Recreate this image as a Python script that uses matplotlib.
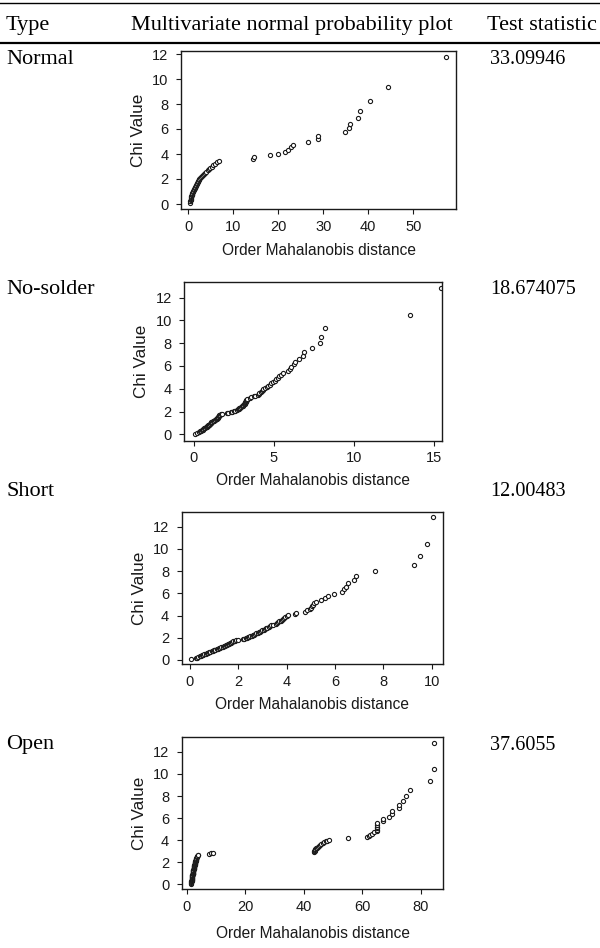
import matplotlib
matplotlib.use("Agg")
import matplotlib.pyplot as plt
from matplotlib.lines import Line2D

W, H = 600, 948

# Chi-square (3 df) plotting positions for n = 60 and n = 100
chi_60 = [0.10, 0.22, 0.31, 0.39, 0.47, 0.55, 0.62, 0.69, 0.76, 0.83,
          0.90, 0.97, 1.04, 1.11, 1.18, 1.25, 1.32, 1.39, 1.46, 1.53,
          1.61, 1.68, 1.76, 1.84, 1.91, 1.99, 2.07, 2.16, 2.24, 2.32,
          2.41, 2.50, 2.60, 2.70, 2.80, 2.90, 3.00, 3.12, 3.24, 3.35,
          3.47, 3.60, 3.75, 3.89, 4.03, 4.19, 4.36, 4.55, 4.74, 4.95,
          5.19, 5.45, 5.73, 6.07, 6.44, 6.92, 7.46, 8.22, 9.35, 11.76]

chi_100 = [0.07, 0.15, 0.22, 0.27, 0.33, 0.38, 0.42, 0.47, 0.52, 0.56,
           0.61, 0.65, 0.69, 0.73, 0.78, 0.82, 0.86, 0.90, 0.94, 0.98,
           1.03, 1.07, 1.11, 1.15, 1.19, 1.23, 1.28, 1.32, 1.36, 1.40,
           1.45, 1.49, 1.53, 1.58, 1.62, 1.67, 1.72, 1.76, 1.81, 1.85,
           1.90, 1.94, 1.99, 2.04, 2.09, 2.14, 2.19, 2.24, 2.29, 2.34,
           2.39, 2.45, 2.50, 2.56, 2.62, 2.68, 2.74, 2.80, 2.86, 2.92,
           2.98, 3.05, 3.12, 3.19, 3.26, 3.33, 3.40, 3.47, 3.55, 3.63,
           3.72, 3.80, 3.89, 3.97, 4.06, 4.16, 4.26, 4.36, 4.47, 4.58,
           4.70, 4.82, 4.95, 5.09, 5.24, 5.39, 5.56, 5.73, 5.93, 6.14,
           6.37, 6.61, 6.90, 7.22, 7.59, 8.05, 8.55, 9.35, 10.48, 12.84]

# Ordered Mahalanobis distances per defect type
md_normal = [0.45, 0.50, 0.55, 0.60, 0.62, 0.65, 0.70, 0.75, 0.80, 0.85,
             0.90, 1.00, 1.10, 1.20, 1.30, 1.40, 1.50, 1.60, 1.70, 1.80,
             1.90, 2.00, 2.10, 2.20, 2.30, 2.50, 2.70, 2.90, 3.10, 3.30,
             3.50, 3.70, 4.00, 4.30, 4.60, 4.90, 5.20, 5.50, 5.90, 6.40,
             6.80, 14.3, 14.7, 18.1, 20.0, 21.6, 22.1, 22.9, 23.2, 26.7,
             28.8, 28.9, 34.9, 35.7, 36.0, 37.7, 38.1, 40.5, 44.4, 57.2]

md_nosolder = [0.05, 0.20, 0.30, 0.38, 0.45, 0.50, 0.55, 0.60, 0.65, 0.70,
               0.75, 0.80, 0.85, 0.88, 0.90, 0.93, 0.96, 1.00, 1.02, 1.05,
               1.08, 1.10, 1.15, 1.20, 1.25, 1.30, 1.35, 1.40, 1.42, 1.45,
               1.48, 1.50, 1.52, 1.55, 1.58, 1.60, 1.65, 1.70, 1.75, 2.10,
               2.15, 2.30, 2.40, 2.50, 2.60, 2.70, 2.75, 2.80, 2.85, 2.90,
               2.95, 3.00, 3.05, 3.10, 3.15, 3.18, 3.20, 3.22, 3.25, 3.25,
               3.28, 3.30, 3.35, 3.50, 3.60, 3.75, 3.85, 4.00, 4.05, 4.10,
               4.20, 4.25, 4.30, 4.35, 4.45, 4.55, 4.65, 4.75, 4.85, 4.95,
               5.05, 5.15, 5.25, 5.35, 5.45, 5.60, 5.90, 6.00, 6.10, 6.25,
               6.30, 6.60, 6.85, 6.90, 7.40, 7.90, 7.95, 8.20, 13.5, 15.46]

md_short = [0.05, 0.25, 0.30, 0.35, 0.40, 0.45, 0.50, 0.55, 0.60, 0.65,
            0.70, 0.75, 0.80, 0.85, 0.90, 0.95, 0.98, 1.00, 1.05, 1.10,
            1.15, 1.20, 1.25, 1.30, 1.35, 1.40, 1.45, 1.50, 1.53, 1.57,
            1.60, 1.65, 1.68, 1.72, 1.75, 1.80, 1.85, 1.90, 2.00, 2.20,
            2.25, 2.30, 2.35, 2.40, 2.45, 2.50, 2.55, 2.60, 2.65, 2.70,
            2.75, 2.80, 2.85, 2.90, 2.95, 3.00, 3.05, 3.10, 3.15, 3.20,
            3.25, 3.30, 3.35, 3.45, 3.55, 3.60, 3.65, 3.70, 3.75, 3.80,
            3.85, 3.90, 3.95, 4.00, 4.05, 4.35, 4.40, 4.75, 4.85, 4.95,
            5.00, 5.05, 5.10, 5.15, 5.20, 5.40, 5.60, 5.70, 5.95, 6.30,
            6.35, 6.45, 6.55, 6.80, 6.85, 7.65, 9.25, 9.50, 9.80, 10.05]

md_open = [1.50, 1.55, 1.60, 1.62, 1.65, 1.68, 1.70, 1.72, 1.75, 1.78,
           1.80, 1.83, 1.85, 1.88, 1.90, 1.93, 1.96, 2.00, 2.03, 2.06,
           2.10, 2.13, 2.16, 2.20, 2.23, 2.26, 2.30, 2.33, 2.36, 2.40,
           2.43, 2.46, 2.50, 2.53, 2.56, 2.60, 2.64, 2.68, 2.72, 2.76,
           2.80, 2.85, 2.90, 2.95, 3.00, 3.05, 3.10, 3.15, 3.20, 3.25,
           3.30, 3.40, 3.50, 3.60, 3.70, 3.80, 7.80, 8.30, 9.00, 43.5,
           43.6, 43.7, 43.8, 44.0, 44.2, 44.5, 44.8, 45.1, 45.5, 46.0,
           46.5, 47.0, 47.5, 48.0, 48.5, 55.0, 61.5, 62.3, 62.8, 63.3,
           64.0, 65.0, 65.0, 65.1, 65.1, 65.2, 65.2, 67.0, 67.0, 69.0,
           70.0, 70.2, 72.5, 72.5, 73.8, 75.0, 76.3, 83.0, 84.6, 84.6]

row_labels = ["Normal", "No-solder", "Short", "Open"]
test_stats = ["33.09946", "18.674075", "12.00483", "37.6055"]
headers = ["Type", "Multivariate normal probability plot", "Test statistic"]

panels = [
    (md_normal, chi_60, [0, 10, 20, 30, 40, 50]),
    (md_nosolder, chi_100, [0, 5, 10, 15]),
    (md_short, chi_100, [0, 2, 4, 6, 8, 10]),
    (md_open, chi_100, [0, 20, 40, 60, 80]),
]

# axes boxes in pixels: left, top, right, bottom
boxes = [(181, 51, 456, 209), (184.3, 282.3, 442.3, 440.7),
         (181.7, 511.7, 442.7, 664.3), (181.7, 736.7, 443.3, 889.3)]
xlims = [(-1.6, 59.5), (-0.6, 15.55), (-0.34, 10.45), (-1.7, 87.7)]
ylims = [(-0.4, 12.24), (-0.56, 13.35), (-0.39, 13.35), (-0.45, 13.38)]
xlabelpads = [7.0, 5.5, 6.0, 8.5]
label_y = [59, 289, 492, 745]

sans = "Liberation Sans"
serif = "Liberation Serif"
ink = "#1a1a1a"

fig = plt.figure(figsize=(W / 100, H / 100), dpi=100)


def fx(px):
    return px / W


def fy(py):
    return 1 - py / H


for (xs, ys, xt), (l, t, r, b), xl, yl, lp in zip(panels, boxes, xlims, ylims, xlabelpads):
    ax = fig.add_axes([fx(l), fy(b), (r - l) / W, (b - t) / H])
    ax.plot(xs, ys, linestyle="none", marker="o", markersize=3.0,
            markerfacecolor="white", markeredgecolor=ink, markeredgewidth=0.8)
    ax.set_xlim(*xl)
    ax.set_ylim(*yl)
    ax.set_xticks(xt)
    ax.set_yticks([0, 2, 4, 6, 8, 10, 12])
    for sp in ax.spines.values():
        sp.set_linewidth(1.0)
        sp.set_color(ink)
    ax.tick_params(direction="out", length=3.5, width=0.8, color=ink,
                   labelsize=10.5, labelcolor=ink)
    ax.tick_params(axis="x", pad=4.2)
    ax.tick_params(axis="y", pad=5.5)
    for lab in ax.get_xticklabels() + ax.get_yticklabels():
        lab.set_fontfamily(sans)
    ax.set_xlabel("Order Mahalanobis distance", fontsize=11.2,
                  fontfamily=sans, color=ink, labelpad=lp)
    ax.set_ylabel("Chi Value", fontsize=12.3, fontfamily=sans,
                  color=ink, labelpad=4.5)

# table header and rules
fig.add_artist(Line2D([0, 1], [fy(2.5), fy(2.5)], color="black", linewidth=1.0))
fig.add_artist(Line2D([0, 1], [fy(42.5), fy(42.5)], color="black", linewidth=1.6))
hx = [6, 131, 487]
for x, txt in zip(hx, headers):
    fig.text(fx(x), fy(30), txt, fontsize=16, fontfamily=serif,
             va="baseline", ha="left")

for lab, st, y in zip(row_labels, test_stats, label_y):
    fig.text(fx(6.5), fy(y), lab, fontsize=16, fontfamily=serif,
             va="center", ha="left")
    fig.text(fx(490), fy(y), st, fontsize=14.5, fontfamily=serif,
             va="center", ha="left")

fig.savefig("out.png", dpi=100)
